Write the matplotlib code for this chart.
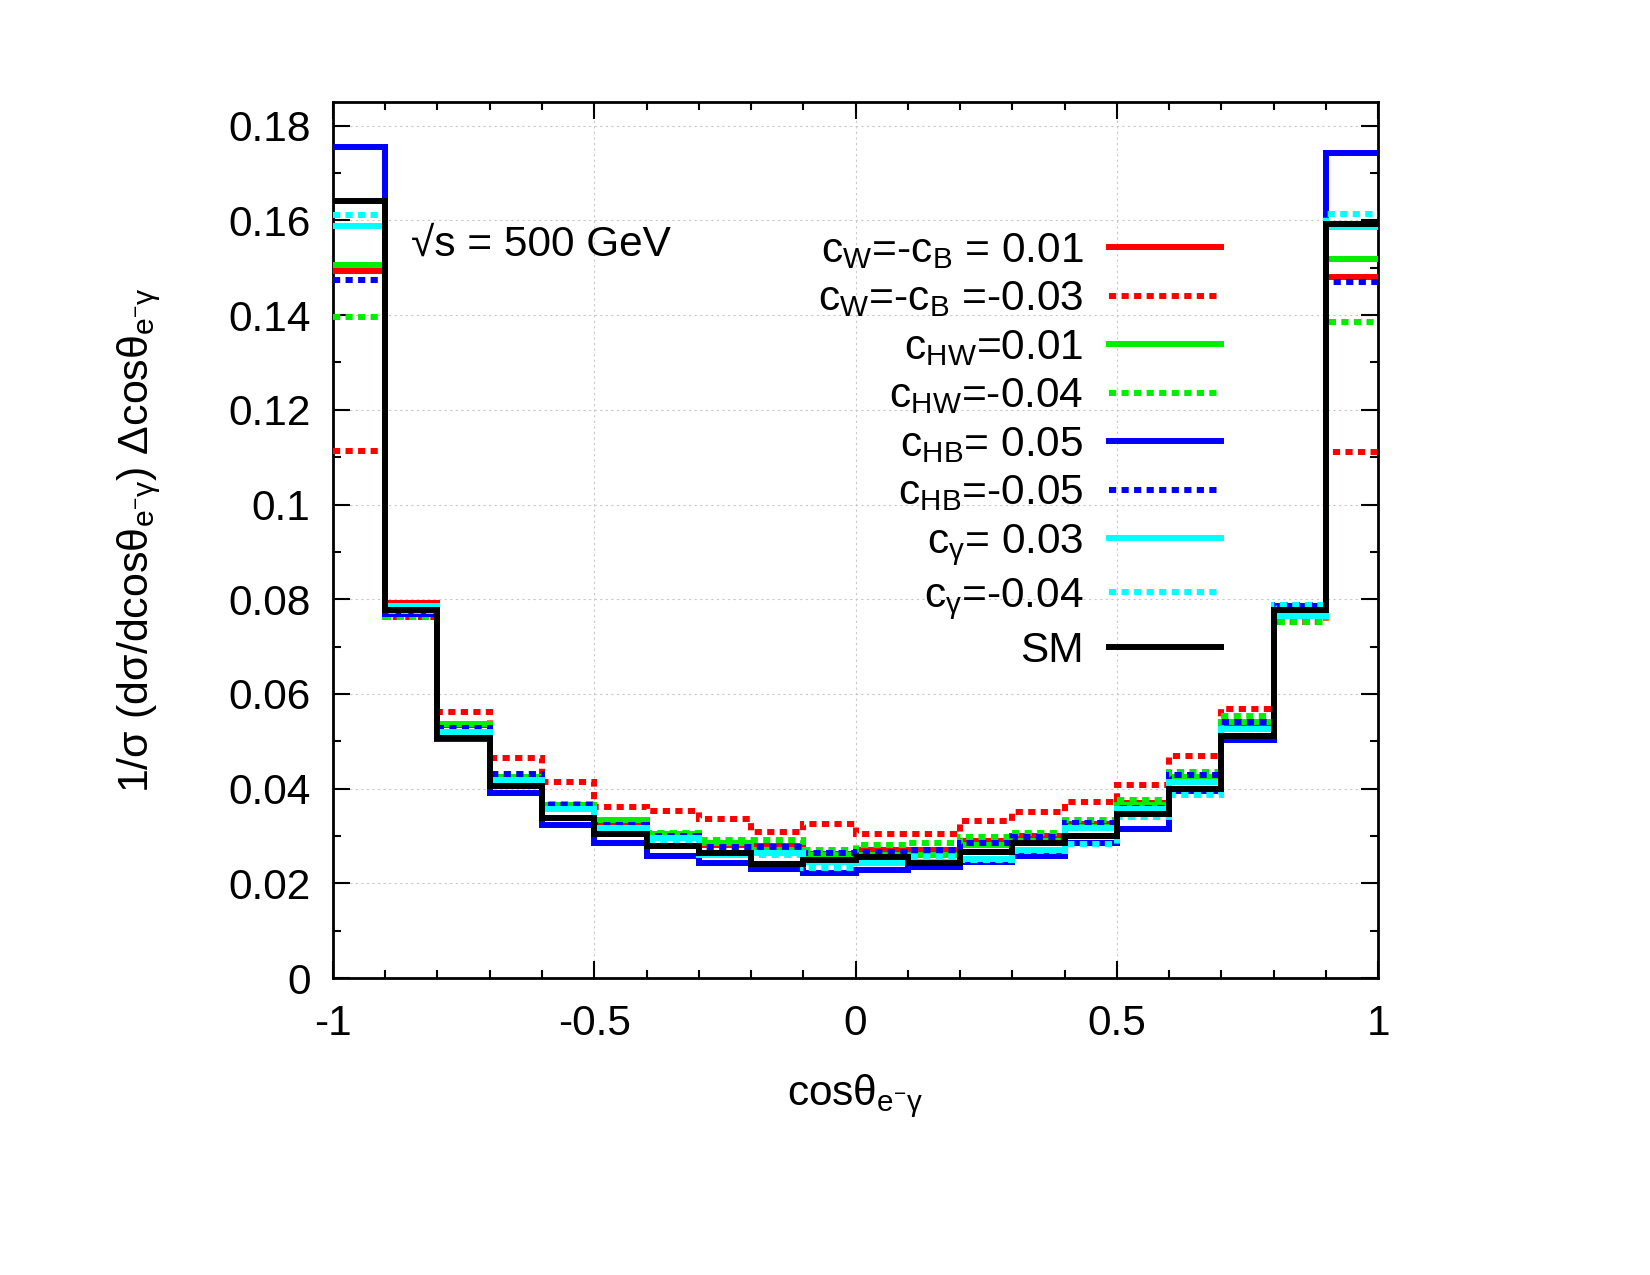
import numpy as np
import matplotlib
matplotlib.use("Agg")
import matplotlib.pyplot as plt
from matplotlib.ticker import MultipleLocator, FuncFormatter

plt.rcParams['font.family'] = ['Liberation Sans', 'DejaVu Sans']
plt.rcParams['mathtext.fontset'] = 'custom'
plt.rcParams['mathtext.rm'] = 'Liberation Sans'
plt.rcParams['mathtext.it'] = 'Liberation Sans'
plt.rcParams['mathtext.bf'] = 'Liberation Sans:bold'
plt.rcParams['axes.unicode_minus'] = False

# ---- data ----
edges = np.round(np.linspace(-1.0, 1.0, 21), 2)

cwcb_p001 = [0.1494, 0.0792, 0.0535, 0.0420, 0.0366, 0.0330, 0.0300, 0.0280, 0.0278, 0.0262,
             0.0270, 0.0270, 0.0290, 0.0300, 0.0325, 0.0370, 0.0414, 0.0534, 0.0770, 0.1480]
cwcb_m003 = [0.1112, 0.0762, 0.0562, 0.0465, 0.0414, 0.0361, 0.0353, 0.0335, 0.0309, 0.0325,
             0.0305, 0.0305, 0.0331, 0.0351, 0.0372, 0.0407, 0.0468, 0.0569, 0.0752, 0.1110]
chw_p001 = [0.1506, 0.0775, 0.0537, 0.0425, 0.0366, 0.0333, 0.0305, 0.0285, 0.0270, 0.0260,
            0.0260, 0.0260, 0.0280, 0.0290, 0.0320, 0.0365, 0.0425, 0.0540, 0.0770, 0.1518]
chw_m004 = [0.1396, 0.0763, 0.0537, 0.0425, 0.0368, 0.0333, 0.0307, 0.0291, 0.0291, 0.0271,
            0.0282, 0.0285, 0.0297, 0.0307, 0.0333, 0.0376, 0.0435, 0.0553, 0.0752, 0.1386]
chb_p005 = [0.1754, 0.0769, 0.0505, 0.0390, 0.0323, 0.0285, 0.0257, 0.0244, 0.0231, 0.0221,
            0.0228, 0.0235, 0.0245, 0.0257, 0.0285, 0.0314, 0.0395, 0.0502, 0.0785, 0.1743]
chb_m005 = [0.1475, 0.0772, 0.0527, 0.0430, 0.0365, 0.0324, 0.0300, 0.0276, 0.0276, 0.0264,
            0.0266, 0.0270, 0.0285, 0.0297, 0.0327, 0.0360, 0.0428, 0.0541, 0.0787, 0.1469]
cg_p003 = [0.1588, 0.0785, 0.0520, 0.0418, 0.0356, 0.0316, 0.0295, 0.0260, 0.0264, 0.0245,
           0.0242, 0.0245, 0.0252, 0.0270, 0.0316, 0.0358, 0.0414, 0.0525, 0.0764, 0.1587]
cg_m004 = [0.1611, 0.0775, 0.0520, 0.0418, 0.0356, 0.0316, 0.0290, 0.0260, 0.0260, 0.0233,
           0.0242, 0.0256, 0.0250, 0.0268, 0.0284, 0.0340, 0.0386, 0.0525, 0.0787, 0.1613]
sm = [0.1640, 0.0778, 0.0506, 0.0405, 0.0339, 0.0304, 0.0278, 0.0264, 0.0240, 0.0250,
      0.0255, 0.0243, 0.0266, 0.0285, 0.0300, 0.0347, 0.0400, 0.0511, 0.0778, 0.1593]

labels = [r'c$_\mathrm{W}$=-c$_\mathrm{B}$ = 0.01',
          r'c$_\mathrm{W}$=-c$_\mathrm{B}$ =-0.03',
          r'c$_\mathrm{HW}$=0.01',
          r'c$_\mathrm{HW}$=-0.04',
          r'c$_\mathrm{HB}$= 0.05',
          r'c$_\mathrm{HB}$=-0.05',
          r'c$_γ$= 0.03',
          r'c$_γ$=-0.04',
          'SM']
series = [cwcb_p001, cwcb_m003, chw_p001, chw_m004, chb_p005, chb_m005, cg_p003, cg_m004, sm]
colors = ['#ff0000', '#ff0000', '#00ee00', '#00ee00', '#0000ff', '#0000ff', '#00ffff', '#00ffff', '#000000']
dotted = (0, (1.2, 0.9))
styles = ['-', dotted, '-', dotted, '-', dotted, '-', dotted, '-']

FS = 30.5

# ---- figure ----
fig = plt.figure(figsize=(16.5, 12.75), dpi=100)
ax = fig.add_axes([0.2018, 0.2329, 0.8352 - 0.2018, 0.92 - 0.2329])

for vals, lab, c, ls in zip(series, labels, colors, styles):
    ax.stairs(vals, edges, baseline=None, color=c, linestyle=ls, linewidth=4.3,
              label=lab, zorder=3)

ax.set_xlim(-1, 1)
ax.set_ylim(0, 0.185)
ax.xaxis.set_major_locator(MultipleLocator(0.5))
ax.xaxis.set_minor_locator(MultipleLocator(0.1))
ax.yaxis.set_major_locator(MultipleLocator(0.02))
ax.yaxis.set_minor_locator(MultipleLocator(0.01))
ax.xaxis.set_major_formatter(FuncFormatter(lambda v, p: '%g' % round(v, 3)))
ax.yaxis.set_major_formatter(FuncFormatter(lambda v, p: '%g' % round(v, 3)))
ax.tick_params(which='both', direction='in', top=True, right=True, width=1.5)
ax.tick_params(which='major', length=12, labelsize=FS)
ax.tick_params(which='minor', length=6)
ax.tick_params(axis='y', which='major', pad=16)
ax.tick_params(axis='x', which='major', pad=19)
for s in ax.spines.values():
    s.set_linewidth(2.0)
ax.grid(True, which='major', color='#c8c8c8', linestyle=(0, (2, 3)), linewidth=0.8, zorder=0)

ax.set_xlabel(r'cosθ$_{\mathrm{e}^{-}γ}$', fontsize=FS, labelpad=20)
ax.set_ylabel(r'1/σ (dσ/dcosθ$_{\mathrm{e}^{-}γ}$) Δcosθ$_{\mathrm{e}^{-}γ}$', fontsize=31, labelpad=47)

ax.text(0.075, 0.837, '√s = 500 GeV', transform=ax.transAxes, fontsize=FS,
        ha='left', va='center')

leg = ax.legend(loc='upper right', bbox_to_anchor=(0.866, 0.872), markerfirst=False,
                frameon=False, fontsize=FS, handlelength=2.65, handletextpad=0.6,
                labelspacing=0.2, borderaxespad=0)

fig.savefig('out.png', dpi=100)
